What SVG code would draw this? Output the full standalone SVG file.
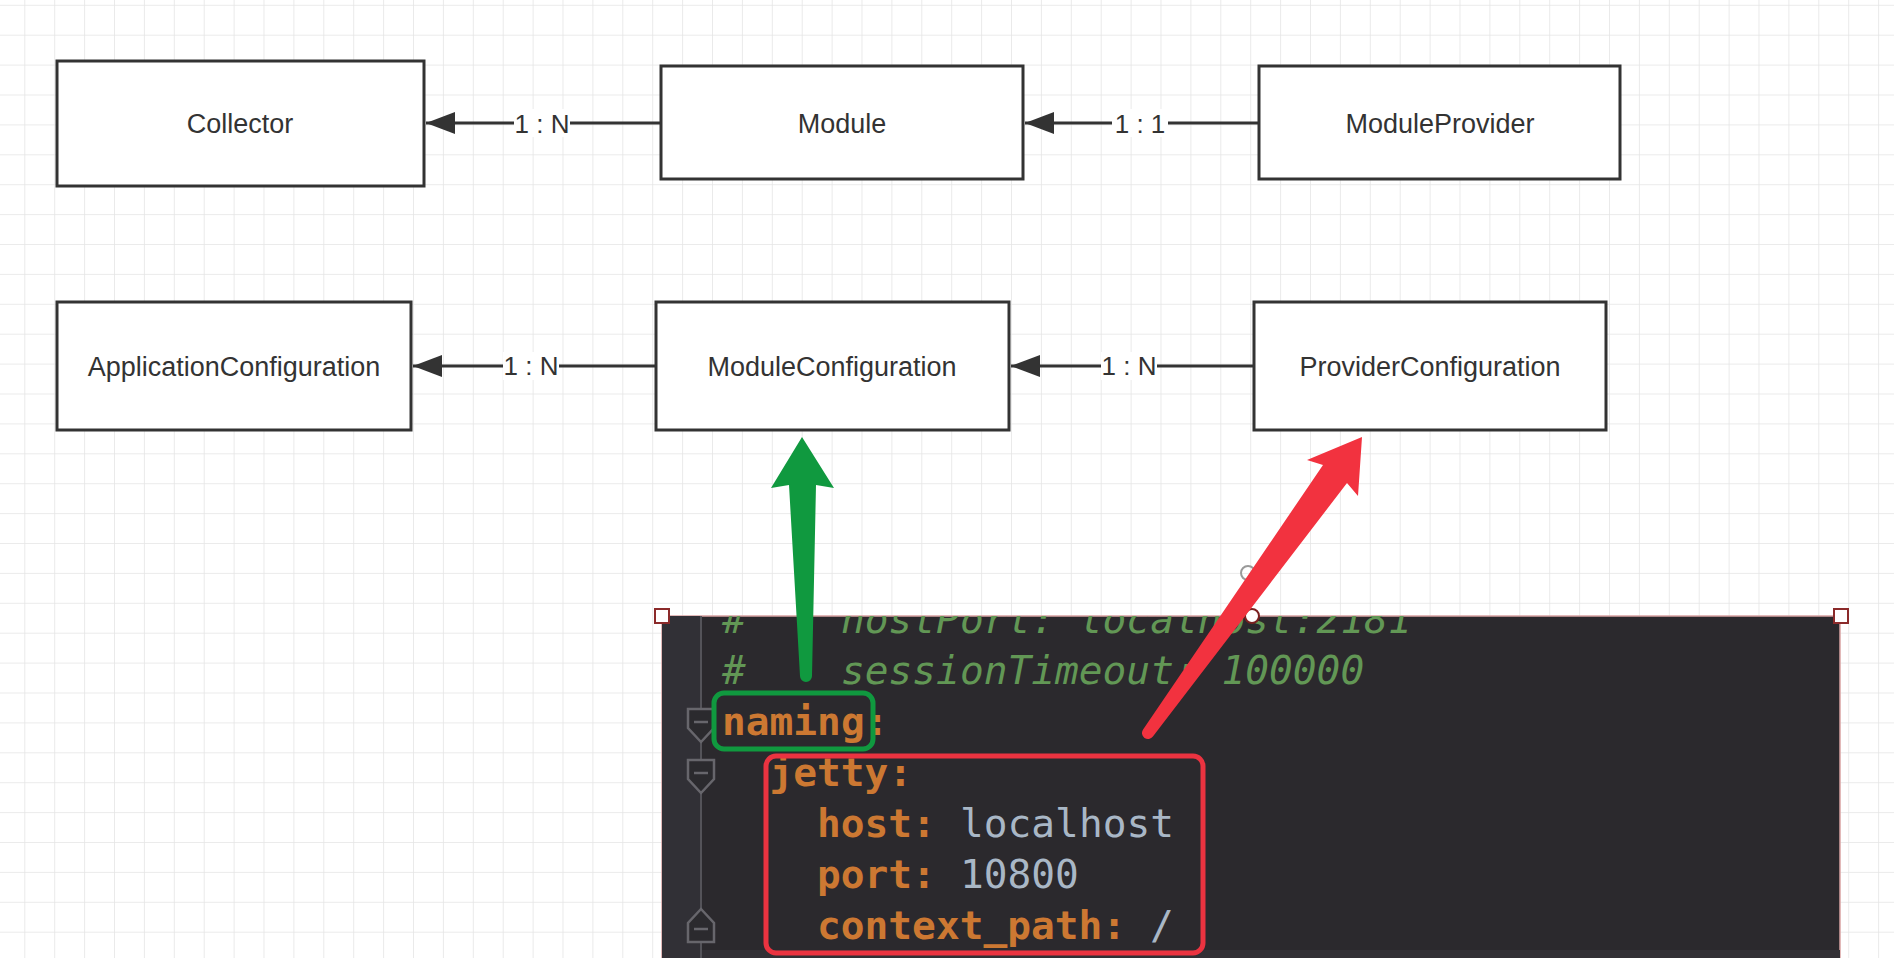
<svg xmlns="http://www.w3.org/2000/svg" width="1894" height="958" viewBox="0 0 1894 958">
  <defs>
    <pattern id="grid" patternUnits="userSpaceOnUse" x="24.3" y="4.8" width="29.9" height="29.9">
      <path d="M0,0 H29.9 M0,0 V29.9" fill="none" stroke="#e5e5e5" stroke-width="1.6"/>
    </pattern>
    <marker id="head" markerUnits="userSpaceOnUse" markerWidth="30" markerHeight="22" refX="29" refY="11" orient="auto">
      <path d="M0,0 L29,11 L0,22 z" fill="#333"/>
    </marker>
    <clipPath id="panelClip">
      <rect x="662" y="616" width="1178" height="342"/>
    </clipPath>
    <style>
      .box { fill: #fff; stroke: #333; stroke-width: 3; }
      .lbl { font-family: "Liberation Sans", Arial, sans-serif; font-size: 27px; fill: #333; text-anchor: middle; }
      .elbl { font-family: "Liberation Sans", Arial, sans-serif; font-size: 26px; fill: #333; text-anchor: middle; }
      .edge { fill: none; stroke: #333; stroke-width: 3; marker-end: url(#head); }
      .lblbg { fill: #fff; }
      .code { font-family: "DejaVu Sans Mono", "Liberation Mono", monospace; font-size: 39.5px; }
      .cm { fill: #629755; font-style: italic; }
      .key { fill: #cc7832; font-weight: bold; }
      .val { fill: #a9b7c6; }
      .fold { fill: #2b2a2e; stroke: #67666c; stroke-width: 2.5; }
      .foldbar { stroke: #67666c; stroke-width: 2.5; }
      .handle { fill: #fff; stroke: #8b2a2a; stroke-width: 2; }
    </style>
  </defs>

  <rect width="1894" height="958" fill="#fff"/>
  <rect width="1894" height="958" fill="url(#grid)"/>

  <g id="connectors">
    <line class="edge" x1="661" y1="123" x2="426" y2="123"/>
    <rect class="lblbg" x="514" y="109" width="56" height="28"/>
    <text class="elbl" x="542" y="133">1 : N</text>

    <line class="edge" x1="1259" y1="123" x2="1025" y2="123"/>
    <rect class="lblbg" x="1112" y="109" width="56" height="28"/>
    <text class="elbl" x="1140" y="133">1 : 1</text>

    <line class="edge" x1="656" y1="366" x2="413" y2="366"/>
    <rect class="lblbg" x="503" y="352" width="56" height="28"/>
    <text class="elbl" x="531" y="375">1 : N</text>

    <line class="edge" x1="1254" y1="366" x2="1011" y2="366"/>
    <rect class="lblbg" x="1101" y="352" width="56" height="28"/>
    <text class="elbl" x="1129" y="375">1 : N</text>
  </g>

  <g id="collector">
    <rect class="box" x="57" y="61" width="367" height="125"/>
    <text class="lbl" x="240" y="133">Collector</text>
  </g>
  <g id="module">
    <rect class="box" x="661" y="66" width="362" height="113"/>
    <text class="lbl" x="842" y="133">Module</text>
  </g>
  <g id="moduleprovider">
    <rect class="box" x="1259" y="66" width="361" height="113"/>
    <text class="lbl" x="1440" y="133">ModuleProvider</text>
  </g>
  <g id="applicationconfiguration">
    <rect class="box" x="57" y="302" width="354" height="128"/>
    <text class="lbl" x="234" y="376">ApplicationConfiguration</text>
  </g>
  <g id="moduleconfiguration">
    <rect class="box" x="656" y="302" width="353" height="128"/>
    <text class="lbl" x="832" y="376">ModuleConfiguration</text>
  </g>
  <g id="providerconfiguration">
    <rect class="box" x="1254" y="302" width="352" height="128"/>
    <text class="lbl" x="1430" y="376">ProviderConfiguration</text>
  </g>

  <g id="code-panel">
    <rect x="662" y="616" width="1178" height="342" fill="#2b292d" stroke="#d9a3a3" stroke-width="1.5"/>
    <g clip-path="url(#panelClip)">
      <rect x="662" y="616" width="39" height="342" fill="#313036"/>
      <rect x="662" y="950" width="1178" height="8" fill="#323035"/>
      <line x1="701" y1="616" x2="701" y2="958" stroke="#545359" stroke-width="2"/>
      <path class="fold" d="M688,709 H714 V728 L701,742 L688,728 Z"/>
      <line class="foldbar" x1="694" y1="722" x2="708" y2="722"/>
      <path class="fold" d="M688,760 H714 V779 L701,793 L688,779 Z"/>
      <line class="foldbar" x1="694" y1="773" x2="708" y2="773"/>
      <path class="fold" d="M688,942 H714 V923 L701,909 L688,923 Z"/>
      <line class="foldbar" x1="694" y1="929" x2="708" y2="929"/>

      <g class="code">
        <text class="cm" x="722" y="633">#</text>
        <text class="cm" x="841" y="633">hostPort: localhost:2181</text>
        <text class="cm" x="722" y="684">#</text>
        <text class="cm" x="841" y="684">sessionTimeout: 100000</text>
        <text class="key" x="722" y="735">naming:</text>
        <text class="key" x="769.5" y="786">jetty:</text>
        <text x="817" y="837"><tspan class="key">host:</tspan><tspan class="val" x="960">localhost</tspan></text>
        <text x="817" y="888"><tspan class="key">port:</tspan><tspan class="val" x="960">10800</tspan></text>
        <text x="817" y="939"><tspan class="key">context_path:</tspan><tspan class="val" x="1150">/</tspan></text>
      </g>
    </g>
    <rect class="handle" x="655" y="609" width="14" height="14"/>
    <rect class="handle" x="1834" y="609" width="14" height="14"/>
    <circle cx="1252" cy="616" r="7" fill="#fff" stroke="#7a2020" stroke-width="2"/>
    <circle cx="1248" cy="573" r="7" fill="none" stroke="#9a9a9a" stroke-width="2"/>
  </g>

  <g id="highlight-naming">
    <rect x="714" y="693" width="159" height="56" rx="10" ry="10" fill="none" stroke="#10993f" stroke-width="5"/>
  </g>
  <g id="highlight-jetty">
    <rect x="766" y="756" width="437" height="197" rx="10" ry="10" fill="none" stroke="#eb3340" stroke-width="5"/>
  </g>

  <g id="pointer-arrows">
    <path d="M802,437 L834,488 L816,485 L812,676 A6,6 0 0 1 800,676 L789,485 L771,488 Z" fill="#10993f"/>
    <path d="M1362,437 L1358,496 L1347,483 L1152.9,736.5 A6,6 0 0 1 1143.1,729.5 L1323,465 L1307,460 Z" fill="#f2323f"/>
  </g>
</svg>
